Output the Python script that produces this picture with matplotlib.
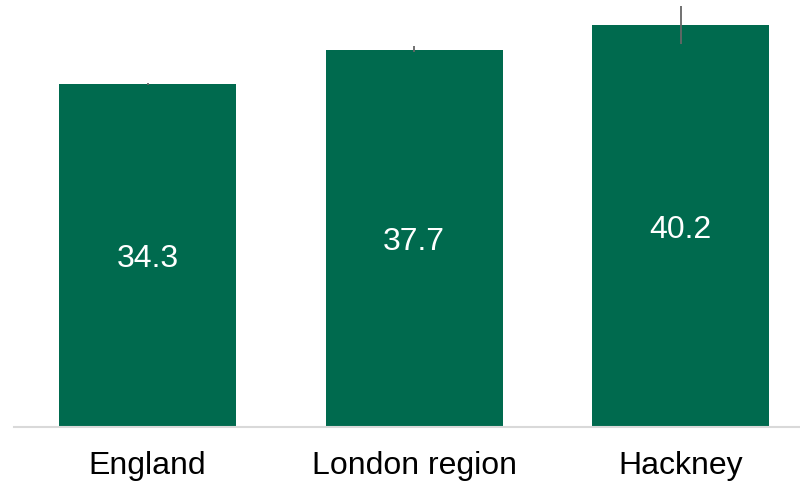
import matplotlib
matplotlib.use("Agg")
import matplotlib.pyplot as plt
import numpy as np

categories = ["England", "London region", "Hackney"]
values = [34.3, 37.7, 40.2]
err_low = [34.2, 37.5, 38.3]
err_high = [34.4, 38.1, 42.1]

plt.rcParams['font.family'] = ['Liberation Sans', 'DejaVu Sans']

fig = plt.figure(figsize=(8, 4.84), dpi=100)
ax = fig.add_axes([14/800, 57/484, 1 - 14/800, 427/484])

x = np.arange(len(categories))
ax.bar(x, values, width=0.664, color="#006A4E", zorder=2)
yerr = [np.array(values) - np.array(err_low), np.array(err_high) - np.array(values)]
ax.errorbar(x, values, yerr=yerr, fmt="none", ecolor="#666666", elinewidth=1.3, capsize=0, zorder=3)

for xi, v in zip(x, values):
    ax.text(xi, v / 2, f"{v}", ha="center", va="center_baseline", color="white", fontsize=23)

ax.set_xlim(-0.501, 2.448)
ax.set_ylim(0, 42.7)
ax.set_xticks(x)
ax.set_xticklabels(categories, fontsize=23)
ax.tick_params(axis="x", length=0, pad=17)
ax.set_yticks([])
for s in ["top", "right", "left"]:
    ax.spines[s].set_visible(False)
ax.spines["bottom"].set_color("#d9d9d9")
ax.spines["bottom"].set_linewidth(1.5)

fig.savefig("out.png", dpi=100)
